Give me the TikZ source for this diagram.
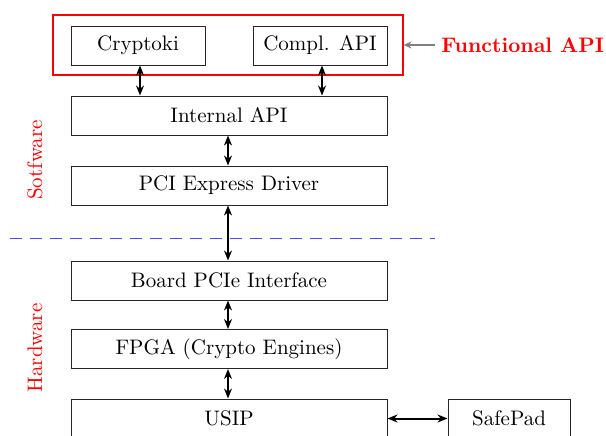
\documentclass[tikz,border=0pt]{standalone}
\usetikzlibrary{arrows.meta}
\begin{document}
\begin{tikzpicture}[x=0.5pt,y=-0.5pt,
  font=\fontsize{10.5}{12.5}\selectfont,
  box/.style={draw=black!85,line width=0.5pt,inner sep=0pt,minimum height=19.5pt},
  wide/.style={box,minimum width=158pt},
  small/.style={box,minimum width=67pt},
  link/.style={line width=1pt,{Stealth[length=5pt,width=4pt]}-{Stealth[length=5pt,width=4pt]}},
  lbl/.style={text=red,rotate=90}
]
\useasboundingbox (0,0) rectangle (606,435);
\node[draw=red,line width=0.55pt,minimum width=175pt,minimum height=30pt,inner sep=0pt] (func) at (228,45) {};
\node[small] (crypt) at (138,45.5) {Cryptoki};
\node[small] (compl) at (320,45.5) {Compl. API};
\node[wide] (int) at (229,115.5) {Internal API};
\node[wide] (pci) at (229,185.5) {PCI Express Driver};
\node[wide] (board) at (229,280.5) {Board PCIe Interface};
\node[wide] (fpga) at (229,349) {FPGA (Crypto Engines)};
\node[wide] (usip) at (229,418.5) {USIP};
\node[box,minimum width=61pt] (safe) at (509,418.5) {SafePad};
\node[anchor=west,inner sep=0pt,text=red,font=\fontsize{10.5}{12.5}\selectfont\bfseries] (fapi) at (441,45) {Functional API};
\node[lbl] (sw) at (35,160) {Sotfware};
\node[lbl] (hw) at (35,348) {Hardware};
\coordinate (dl) at (10,238);
\coordinate (dr) at (435,238);
\draw[blue!70,line width=0.5pt,dash pattern=on 6pt off 4pt] (dl) -- (dr);
\draw[link] ([xshift=1pt]crypt.south) -- ([xshift=1pt]crypt.south |- int.north);
\draw[link] ([xshift=1pt]compl.south) -- ([xshift=1pt]compl.south |- int.north);
\draw[link] ([xshift=-0.5pt]int.south) -- ([xshift=-0.5pt]pci.north);
\draw[link] ([xshift=-0.5pt]pci.south) -- ([xshift=-0.5pt]board.north);
\draw[link] ([xshift=-0.5pt]board.south) -- ([xshift=-0.5pt]fpga.north);
\draw[link] ([xshift=-0.5pt]fpga.south) -- ([xshift=-0.5pt]usip.north);
\draw[link] (usip.east) -- (safe.west);
\draw[gray,line width=0.8pt,-{Stealth[length=4pt,width=3.5pt]}] ([xshift=-3pt]fapi.west) -- (func.east);
\end{tikzpicture}
\end{document}
